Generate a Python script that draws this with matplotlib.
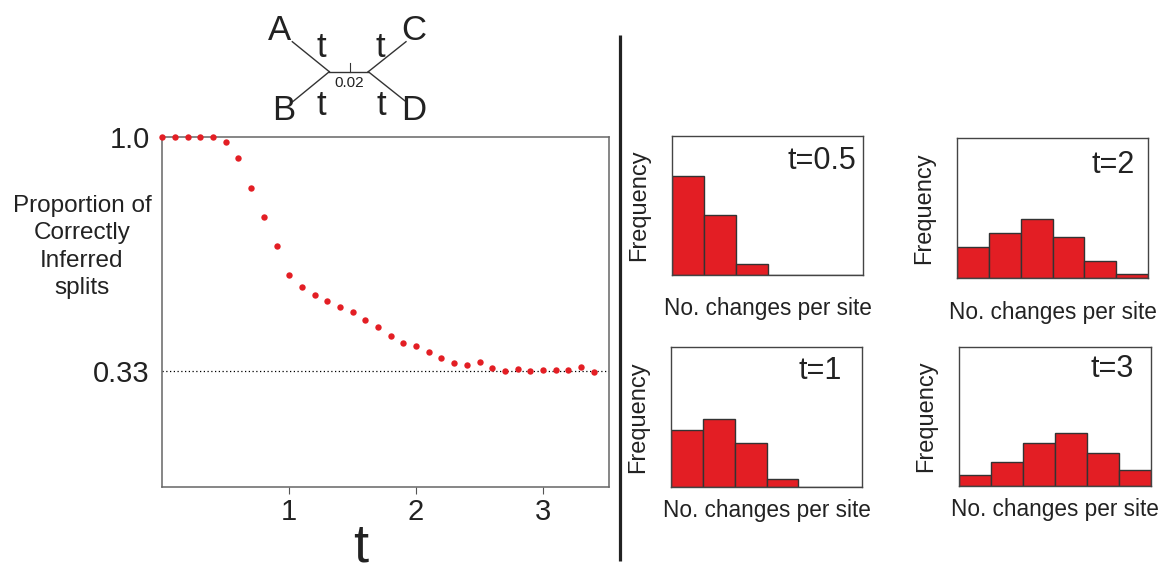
import numpy as np
import matplotlib.pyplot as plt

plt.rcParams['font.family'] = ['Liberation Sans', 'DejaVu Sans']

# main panel: proportion of correctly inferred splits vs branch length t
t_vals = [0.0, 0.1, 0.2, 0.3, 0.4, 0.5, 0.6, 0.7, 0.8, 0.9,
          1.0, 1.1, 1.2, 1.3, 1.4, 1.5, 1.6, 1.7, 1.8, 1.9,
          2.0, 2.1, 2.2, 2.3, 2.4, 2.5, 2.6, 2.7, 2.8, 2.9,
          3.0, 3.1, 3.2, 3.3, 3.4]
prop_correct = [1.0, 1.0, 1.0, 1.0, 1.0, 0.986, 0.941, 0.855, 0.772, 0.687,
                0.605, 0.571, 0.548, 0.531, 0.513, 0.500, 0.476, 0.457, 0.432, 0.411,
                0.402, 0.384, 0.368, 0.354, 0.347, 0.357, 0.339, 0.330, 0.337, 0.332,
                0.334, 0.334, 0.333, 0.341, 0.329]
random_level = 0.33

# histograms of number of changes per site
hist_labels = ['t=0.5', 't=2', 't=1', 't=3']
hist_05 = [0.715, 0.435, 0.079, 0, 0, 0]
hist_2 = [0.225, 0.325, 0.423, 0.292, 0.120, 0.031]
hist_1 = [0.407, 0.483, 0.312, 0.057, 0, 0]
hist_3 = [0.079, 0.170, 0.312, 0.381, 0.237, 0.118]
n_bins = 6

red = '#e31e24'

fig = plt.figure(figsize=(11.76, 5.74), dpi=100)

# overlay in pixel coords for the tree sketch and divider
ov = fig.add_axes([0, 0, 1, 1])
ov.set_xlim(0, 1176)
ov.set_ylim(574, 0)
ov.axis('off')

node_l = (329.3, 71.7)
node_r = (368.3, 71.7)
leaves = {'A': (292.3, 41.7), 'B': (292.7, 101.7), 'C': (406, 41.7), 'D': (406, 101.7)}
tree_col = '#333333'
ov.plot([node_l[0], node_r[0]], [node_l[1], node_r[1]], color=tree_col, lw=1)
ov.plot([350, 350], [63, node_l[1]], color=tree_col, lw=0.8)
for k in ['A', 'B']:
    ov.plot([node_l[0], leaves[k][0]], [node_l[1], leaves[k][1]], color=tree_col, lw=1)
for k in ['C', 'D']:
    ov.plot([node_r[0], leaves[k][0]], [node_r[1], leaves[k][1]], color=tree_col, lw=1)

leaf_txt = {'A': (280, 40), 'B': (283.3, 120), 'C': (413.3, 40), 'D': (413.3, 120)}
for k, (x, y) in leaf_txt.items():
    ov.text(x, y, k, fontsize=25, ha='center', va='baseline', color='#222222')
for x, y in [(321, 56.7), (380, 56.7), (321, 115), (381.7, 115)]:
    ov.text(x, y, 't', fontsize=25, ha='center', va='baseline', color='#222222')
ov.text(349, 87.3, '0.02', fontsize=11, ha='center', va='baseline', color='#222222')

ov.plot([620, 620], [35, 561], color='#222222', lw=2.3, solid_capstyle='butt')

# main axes
ax = fig.add_axes([162.3 / 1176, 1 - 486.7 / 574, 446.7 / 1176, 349.7 / 574])
ax.plot(t_vals, prop_correct, 'o', color=red, ms=4.6, mec='none', clip_on=False, zorder=3)
ax.axhline(random_level, color='black', ls=(0, (1, 2)), lw=0.9)
ax.set_xlim(0, 3.52)
ax.set_ylim(0, 1.0)
ax.set_xticks([1, 2, 3])
ax.set_xticklabels(['1', '2', '3'], fontsize=21, color='#222222')
ax.set_yticks([random_level, 1.0])
ax.set_yticklabels(['0.33', '1.0'], fontsize=21, color='#222222')
ax.tick_params(axis='x', direction='out', length=5, width=0.8, color='#555555', pad=3)
ax.tick_params(axis='y', length=0, pad=9)
for sp in ax.spines.values():
    sp.set_color('#666666')
    sp.set_linewidth(1.1)

fig.text(360.7 / 1176, 1 - 573 / 574, 't', fontsize=39, ha='center', va='bottom',
         color='#222222')
fig.text(82 / 1176, 1 - 247 / 574, 'Proportion of\nCorrectly\nInferred\nsplits',
         fontsize=17.5, ha='center', va='center', linespacing=1.3, color='#222222')

# histogram panels
panels = [
    ([672 / 1176, 1 - 275 / 574, 191 / 1176, 139 / 574], hist_05, 0.963, 0.82, 16.2),
    ([957 / 1176, 1 - 278 / 574, 191 / 1176, 140 / 574], hist_2, 0.93, 0.81, 16.2),
    ([671 / 1176, 1 - 487 / 574, 191 / 1176, 140 / 574], hist_1, 0.895, 0.83, 8.6),
    ([959 / 1176, 1 - 486 / 574, 192 / 1176, 139 / 574], hist_3, 0.91, 0.84, 8.6),
]
for (rect, heights, tx, ty, xpad), lab in zip(panels, hist_labels):
    h = fig.add_axes(rect)
    h.bar(np.arange(n_bins), heights, width=1, align='edge', color=red,
          edgecolor='#333333', linewidth=1)
    h.set_xlim(0, n_bins)
    h.set_ylim(0, 1)
    h.set_xticks([])
    h.set_yticks([])
    for sp in h.spines.values():
        sp.set_color('#444444')
        sp.set_linewidth(1)
    h.text(tx, ty, lab, transform=h.transAxes, fontsize=22, ha='right', va='center',
           color='#222222')
    h.set_ylabel('Frequency', fontsize=17, labelpad=16, color='#222222')
    h.set_xlabel('No. changes per site', fontsize=16.3, labelpad=xpad, color='#222222')

fig.savefig('out.png', dpi=100)
